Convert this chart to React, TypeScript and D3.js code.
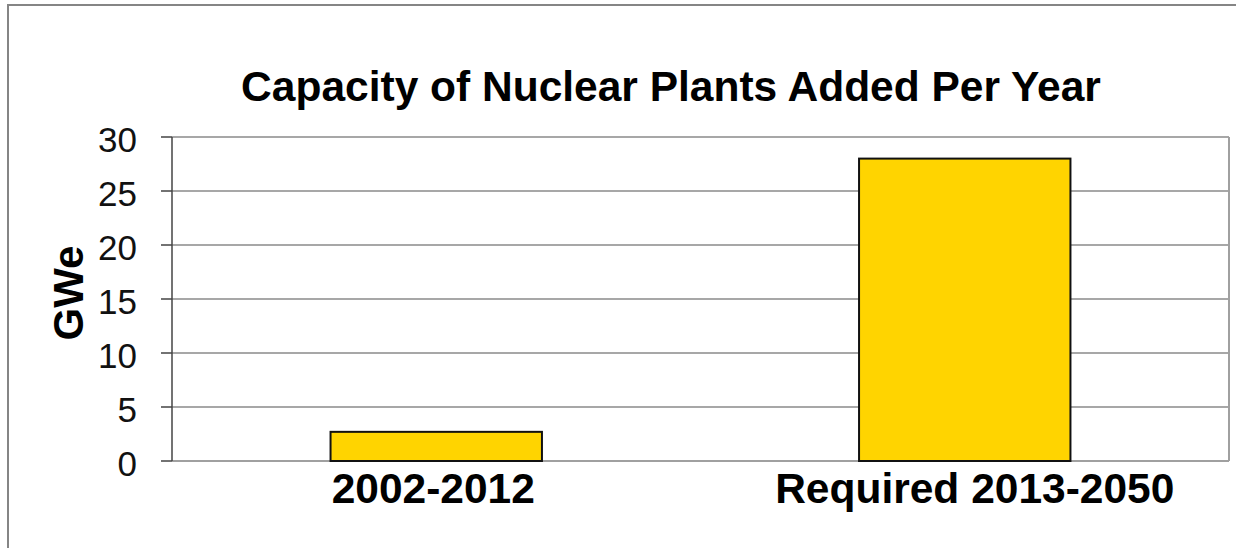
import React from "react";
import * as d3 from "d3";

const categories = ["2002-2012", "Required 2013-2050"];
const values = [2.7, 28];
const yTicks = [0, 5, 10, 15, 20, 25, 30];
const title = "Capacity of Nuclear Plants Added Per Year";
const yLabel = "GWe";

export default function App() {
  const W = 1236, H = 548;
  const left = 172, right = 1229, top = 137, bottom = 461;
  const x = d3.scaleBand<string>().domain(categories).range([left, right]).paddingInner(0.6).paddingOuter(0.3);
  const y = d3.scaleLinear().domain([0, 30]).range([bottom, top]);
  const font = "'Liberation Sans', Arial, sans-serif";
  return (
    <svg width={W} height={H} style={{ position: "absolute", left: 0, top: 0, background: "#fff" }} fontFamily={font}>
      <rect x={0} y={0} width={W} height={H} fill="#fff" />
      <path d={`M8,${H} L8,5 L${W},5`} fill="none" stroke="#858585" strokeWidth={2} />
      {yTicks.map((t) => (
        <g key={t}>
          {t !== 0 && <line x1={left} x2={right} y1={y(t)} y2={y(t)} stroke="#8a8a8a" strokeWidth={1.5} />}
          <line x1={161} x2={left} y1={y(t)} y2={y(t)} stroke="#444" strokeWidth={1.5} />
          <text x={137} y={y(t)} dy={15} textAnchor="end" fontSize={35} fill="#111">{t}</text>
        </g>
      ))}
      <line x1={left} x2={right} y1={bottom} y2={bottom} stroke="#a0a0a0" strokeWidth={2} />
      <line x1={right} x2={right} y1={top} y2={bottom} stroke="#a0a0a0" strokeWidth={2} />
      {categories.map((c, i) => (
        <rect key={c} x={x(c)} y={y(values[i])} width={x.bandwidth()} height={bottom - y(values[i])}
          fill="#FFD400" stroke="#111" strokeWidth={2} />
      ))}
      <line x1={left} x2={left} y1={top} y2={bottom} stroke="#444" strokeWidth={1.5} />
      {categories.map((c, i) => (
        <text key={c} x={(x(c) as number) + x.bandwidth() / 2 + (i === 0 ? -3 : 10)} y={503} textAnchor="middle" fontSize={42.5} fontWeight="bold" fill="#000">{c}</text>
      ))}
      <text x={671} y={101} textAnchor="middle" fontSize={42.5} fontWeight="bold" fill="#000">{title}</text>
      <text transform="translate(83,293) rotate(-90)" textAnchor="middle" fontSize={42} fontWeight="bold" fill="#000">{yLabel}</text>
    </svg>
  );
}
